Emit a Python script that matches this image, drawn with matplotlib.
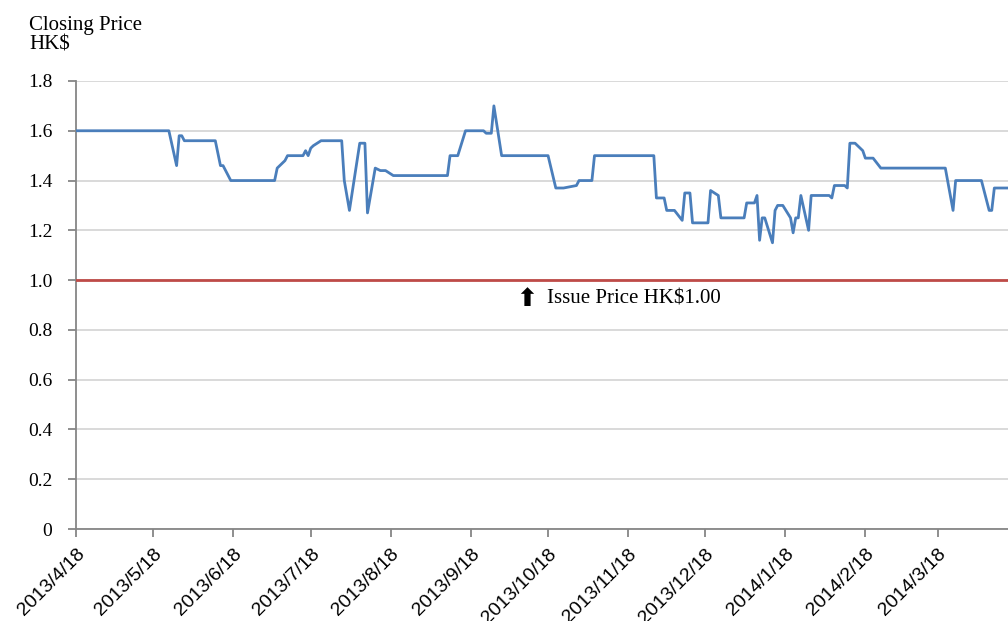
import datetime as dt

import matplotlib
matplotlib.use("Agg")
import matplotlib.pyplot as plt
import matplotlib.dates as mdates

# closing price vertices: days after 2013/4/18, HK$
start = dt.date(2013, 4, 18)
days = [0, 36, 39, 40, 41, 42, 54, 56, 57, 60, 77, 78, 81, 82, 88, 89, 90, 91,
        92, 95, 103, 104, 106, 110, 112, 113, 116, 118, 120, 123, 144, 145, 148,
        151, 158, 159, 161, 162, 165, 183, 186, 189, 194, 195, 200, 201, 224,
        225, 228, 229, 232, 235, 236, 238, 239, 245, 246, 249, 250, 259, 260,
        263, 264, 265, 266, 267, 270, 271, 272, 274, 277, 278, 279, 280, 281,
        284, 285, 292, 293, 294, 298, 299, 300, 302, 305, 306, 309, 312, 337,
        340, 341, 351, 354, 355, 356, 364]
prices = [1.60, 1.60, 1.46, 1.58, 1.58, 1.56, 1.56, 1.46, 1.46, 1.40, 1.40,
          1.45, 1.48, 1.50, 1.50, 1.52, 1.50, 1.53, 1.54, 1.56, 1.56, 1.40,
          1.28, 1.55, 1.55, 1.27, 1.45, 1.44, 1.44, 1.42, 1.42, 1.50, 1.50,
          1.60, 1.60, 1.59, 1.59, 1.70, 1.50, 1.50, 1.37, 1.37, 1.38, 1.40,
          1.40, 1.50, 1.50, 1.33, 1.33, 1.28, 1.28, 1.24, 1.35, 1.35, 1.23,
          1.23, 1.36, 1.34, 1.25, 1.25, 1.31, 1.31, 1.34, 1.16, 1.25, 1.25,
          1.15, 1.28, 1.30, 1.30, 1.25, 1.19, 1.25, 1.25, 1.34, 1.20, 1.34,
          1.34, 1.33, 1.38, 1.38, 1.37, 1.55, 1.55, 1.52, 1.49, 1.49, 1.45,
          1.45, 1.28, 1.40, 1.40, 1.28, 1.28, 1.37, 1.37]
issue_price = 1.00
tick_dates = [dt.date(2013, m, 18) for m in range(4, 13)] + \
             [dt.date(2014, m, 18) for m in range(1, 4)]
y_ticks = [0, 0.2, 0.4, 0.6, 0.8, 1.0, 1.2, 1.4, 1.6, 1.8]
y_labels = ["0", "0.2", "0.4", "0.6", "0.8", "1.0", "1.2", "1.4", "1.6", "1.8"]

dates = [start + dt.timedelta(days=d) for d in days]
x_end = dt.datetime(2013, 4, 18) + dt.timedelta(days=361.3)

serif = "Liberation Serif"
sans = "Liberation Sans"

fig = plt.figure(figsize=(10.08, 6.21), dpi=100)
ax = fig.add_axes([0.0754, 0.1481, 0.9246, 0.7215])

ax.set_ylim(0, 1.8)
ax.set_xlim(dt.datetime(2013, 4, 18), x_end)
ax.set_yticks(y_ticks)
ax.set_yticklabels(y_labels, family=serif, fontsize=14)
ax.yaxis.grid(True, color="#D9D9D9", lw=1.4)
ax.set_axisbelow(True)

ax.plot(dates, prices, color="#4A7EBB", lw=2.0, zorder=3)
ax.axhline(issue_price, color="#BE4B48", lw=2.0, zorder=3)

ax.set_xticks(tick_dates)
ax.xaxis.set_major_formatter(mdates.DateFormatter("%Y/%-m/%d"))
for lab in ax.get_xticklabels():
    lab.set_family(sans)
    lab.set_fontsize(14)
    lab.set_rotation(45)
    lab.set_ha("right")
    lab.set_va("top")
    lab.set_rotation_mode("anchor")

for s in ("top", "right"):
    ax.spines[s].set_visible(False)
for s in ("left", "bottom"):
    ax.spines[s].set_color("#868686")
    ax.spines[s].set_linewidth(1.3)
ax.tick_params(axis="both", colors="#868686", length=6, width=1.3)
ax.tick_params(axis="y", labelcolor="black", pad=11)
ax.tick_params(axis="x", labelcolor="black", pad=6)

# issue price note
ax.text(dt.datetime(2013, 10, 9, 18), 0.925, "\u2B06", family="DejaVu Sans",
        fontsize=18, fontweight="bold", ha="center", va="center")
ax.text(dt.datetime(2013, 10, 17, 18), 0.925, "Issue Price HK$1.00",
        family=serif, fontsize=15, ha="left", va="center")

fig.text(0.029, 0.975, "Closing Price\nHK$", family=serif, fontsize=15,
         ha="left", va="top", linespacing=1.05)

fig.savefig("out.png", dpi=100)
